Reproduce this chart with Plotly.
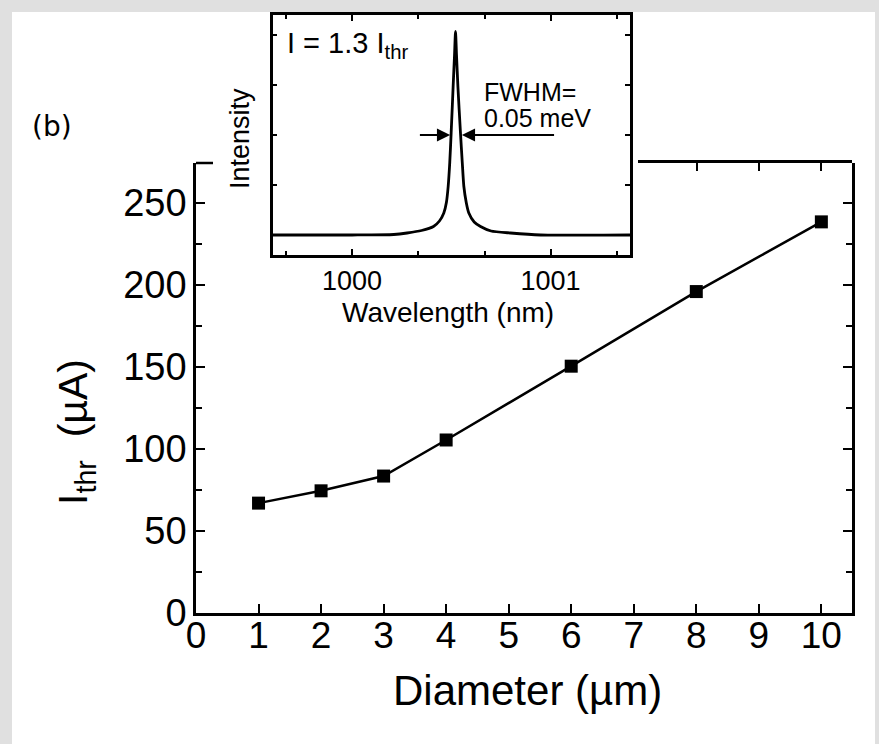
import plotly.graph_objects as go

# Main data: threshold current vs. diameter
diameter_um = [1, 2, 3, 4, 6, 8, 10]
ithr_uA = [67, 74.5, 83.5, 105.5, 150.5, 196, 238.5]

# Inset data: lasing spectrum at I = 1.3 I_thr
wavelength_nm = [999.60, 1000.00, 1000.21, 1000.277, 1000.35, 1000.41, 1000.44, 1000.462,
                 1000.475, 1000.484, 1000.492, 1000.499, 1000.509, 1000.516, 1000.521,
                 1000.526, 1000.533, 1000.546, 1000.555, 1000.563, 1000.575, 1000.588,
                 1000.615, 1000.647, 1000.70, 1000.798, 1000.95, 1001.40]
intensity_au = [0.0, 0.0, 0.01, 0.04, 0.09, 0.17, 0.28, 0.44,
                0.65, 0.97, 1.45, 2.04, 2.97, 3.6, 4.07,
                3.6, 2.97, 2.04, 1.45, 0.97, 0.65, 0.44,
                0.26, 0.17, 0.08, 0.04, 0.0, 0.0]

x_ticks_main = list(range(0, 11))
y_ticks_main = [0, 50, 100, 150, 200, 250]
inset_x_ticks = [1000, 1001]
inset_x_labels = ["1000", "1001"]

FONT = "Liberation Sans, Arial, Helvetica, sans-serif"
BLACK = "#000000"

fig = go.Figure()

fig.add_trace(go.Scatter(
    x=diameter_um, y=ithr_uA, mode="lines+markers",
    line=dict(color=BLACK, width=2.5),
    marker=dict(symbol="square", size=13, color=BLACK),
    xaxis="x", yaxis="y", showlegend=False, hoverinfo="skip"))

fig.add_trace(go.Scatter(
    x=wavelength_nm, y=intensity_au, mode="lines",
    line=dict(color=BLACK, width=2.8, shape="spline", smoothing=0.6),
    xaxis="x2", yaxis="y2", showlegend=False, hoverinfo="skip"))

# empty trace so that the partial top frame axis exists
fig.add_trace(go.Scatter(x=[], y=[], xaxis="x3", yaxis="y", showlegend=False))

W, H = 879, 744
L, R, T, B = 196, 27, 15, 131
pw, ph = W - L - R, H - T - B


def px(xp):
    return (xp - L) / pw


def py(yp):
    return (H - B - yp) / ph


main_top = py(163)

fig.update_layout(
    width=W, height=H,
    margin=dict(l=L, r=R, t=T, b=B, pad=0, autoexpand=False),
    paper_bgcolor="#e0e0e0",
    plot_bgcolor="rgba(0,0,0,0)",
    font=dict(family=FONT, color=BLACK),
    xaxis=dict(
        domain=[0, 1], anchor="y", range=[0, 10.49],
        tickmode="array", tickvals=x_ticks_main, ticktext=[str(v) for v in x_ticks_main],
        ticks="inside", ticklen=9, tickwidth=2, tickcolor=BLACK,
        showline=True, linewidth=2.5, linecolor=BLACK, mirror=False,
        showgrid=False, zeroline=False, automargin=False,
        tickfont=dict(size=37, family=FONT), ticklabelstandoff=-12),
    yaxis=dict(
        domain=[0, main_top], anchor="x", range=[0, 274.4],
        tickmode="array", tickvals=y_ticks_main,
        ticks="inside", ticklen=9, tickwidth=2, tickcolor=BLACK,
        minor=dict(dtick=25, tick0=0, ticks="inside", ticklen=6, tickwidth=2, tickcolor=BLACK, showgrid=False),
        showline=True, linewidth=2.5, linecolor=BLACK, mirror="ticks",
        showgrid=False, zeroline=False, automargin=False,
        tickfont=dict(size=38, family=FONT), ticklabelstandoff=-1),
    xaxis3=dict(
        domain=[px(638), 1], anchor="y", side="top", range=[(638 - 196.4) / 62.56, 10.49],
        tickmode="linear", tick0=0, dtick=1,
        ticks="inside", ticklen=8, tickwidth=2, tickcolor=BLACK,
        showline=True, linewidth=2.5, linecolor=BLACK,
        showticklabels=False, showgrid=False, zeroline=False),
    xaxis2=dict(
        domain=[px(272.7), px(630)], anchor="y2", range=[999.60, 1001.40],
        tickmode="array", tickvals=inset_x_ticks, ticktext=inset_x_labels,
        ticks="inside", ticklen=6, tickwidth=2, tickcolor=BLACK,
        minor=dict(tickmode="array", tickvals=[999.667, 1000.333, 1000.667, 1001.333],
                   ticks="inside", ticklen=4, tickwidth=1.5, tickcolor=BLACK, showgrid=False),
        showline=True, linewidth=2.5, linecolor=BLACK, mirror="allticks",
        showgrid=False, zeroline=False, automargin=False,
        tickfont=dict(size=27, family=FONT), ticklabelstandoff=0),
    yaxis2=dict(
        domain=[py(255), 1], anchor="x2", range=[-0.4, 4.4],
        tickmode="array", tickvals=[1, 2, 3, 4],
        ticks="inside", ticklen=5, tickwidth=1.5, tickcolor=BLACK,
        showline=True, linewidth=2.5, linecolor=BLACK, mirror="allticks",
        showticklabels=False, showgrid=False, zeroline=False),
)

# white page with grey border, and the short top-left piece of the main frame
fig.add_shape(type="rect", xref="paper", yref="paper", layer="below",
              x0=px(12), x1=px(875), y0=py(760), y1=py(12),
              fillcolor="white", line=dict(width=0))
fig.add_shape(type="line", xref="paper", yref="paper",
              x0=0, x1=px(213), y0=main_top, y1=main_top,
              line=dict(color=BLACK, width=2.5))

ann = [
    dict(text="Diameter (µm)", x=px(527), y=py(690), font=dict(size=42)),
    dict(text="I<sub>thr</sub>  (µA)", x=px(76), y=py(432), textangle=-90, font=dict(size=41)),
    dict(text="(b)", x=px(52), y=py(127), font=dict(size=28, family="DejaVu Sans, sans-serif")),
    dict(text="Intensity", x=px(240), y=py(139), textangle=-90, font=dict(size=27)),
    dict(text="Wavelength (nm)", x=px(448), y=py(312), font=dict(size=28)),
]
for a in ann:
    fig.add_annotation(xref="paper", yref="paper", showarrow=False,
                       xanchor="center", yanchor="middle", **a)

fig.add_annotation(xref="x2", yref="y2", x=999.66, y=3.8, text="I = 1.3 I<sub>thr</sub>",
                   showarrow=False, xanchor="left", yanchor="middle", font=dict(size=29))
fig.add_annotation(xref="x2", yref="y2", x=1000.655, y=2.86, text="FWHM=",
                   showarrow=False, xanchor="left", yanchor="middle", font=dict(size=25))
fig.add_annotation(xref="x2", yref="y2", x=1000.655, y=2.34, text="0.05 meV",
                   showarrow=False, xanchor="left", yanchor="middle", font=dict(size=25))
# FWHM arrows
fig.add_annotation(xref="x2", yref="y2", axref="x2", ayref="y2",
                   x=1000.494, y=2.0, ax=1000.334, ay=2.0, text="", showarrow=True,
                   arrowhead=2, arrowsize=1.2, arrowwidth=2.2, arrowcolor=BLACK)
fig.add_annotation(xref="x2", yref="y2", axref="x2", ayref="y2",
                   x=1000.553, y=2.0, ax=1001.025, ay=2.0, text="", showarrow=True,
                   arrowhead=2, arrowsize=1.2, arrowwidth=2.2, arrowcolor=BLACK)

fig.write_html("out.html", config={"displayModeBar": False},
               post_script="document.body.style.margin='0';document.body.style.overflow='hidden';")
